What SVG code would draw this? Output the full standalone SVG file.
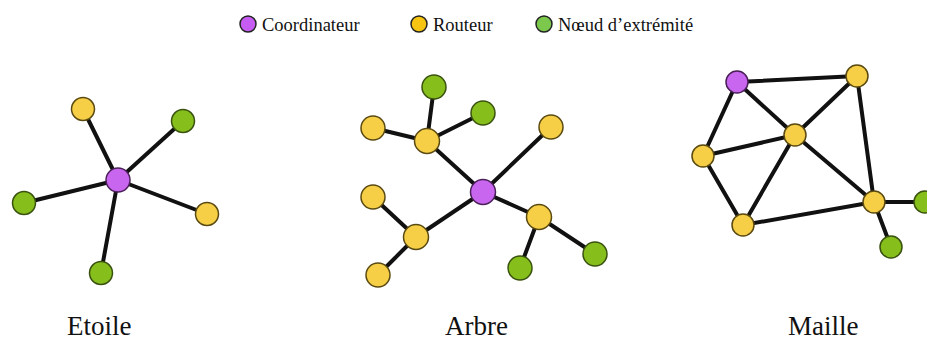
<svg xmlns="http://www.w3.org/2000/svg" width="927" height="342" viewBox="0 0 927 342">
<style>
.e{stroke:#111;stroke-width:4;stroke-linecap:round;fill:none}
.p{fill:#C966F0;stroke:#4a2058;stroke-width:1.5}
.y{fill:#F6CF46;stroke:#5a4a12;stroke-width:1.5}
.g{fill:#86BE1C;stroke:#3a5210;stroke-width:1.5}
.lp{fill:#C65CF2;stroke:#222;stroke-width:1.5}
.ly{fill:#F8C412;stroke:#222;stroke-width:1.5}
.lg{fill:#7CC84C;stroke:#222;stroke-width:1.5}
.lt{font-family:"Liberation Serif",serif;font-size:18.5px;fill:#111}
.tt{font-family:"Liberation Serif",serif;font-size:27px;fill:#111}
</style>
<rect width="927" height="342" fill="#fff"/>
<g id="legend">
<circle class="lp" cx="248" cy="24" r="8"/>
<text class="lt" x="262" y="31">Coordinateur</text>
<circle class="ly" cx="419" cy="24" r="8"/>
<text class="lt" x="433" y="31">Routeur</text>
<circle class="lg" cx="544" cy="24" r="8"/>
<text class="lt" x="558" y="31">Nœud d’extrémité</text>
</g>
<g id="connectors">
<line class="e" x1="118" y1="180" x2="83" y2="109"/>
<line class="e" x1="118" y1="180" x2="183" y2="121"/>
<line class="e" x1="118" y1="180" x2="24" y2="203"/>
<line class="e" x1="118" y1="180" x2="207" y2="214"/>
<line class="e" x1="118" y1="180" x2="101" y2="273"/>
<line class="e" x1="483" y1="192" x2="427" y2="141"/>
<line class="e" x1="483" y1="192" x2="551" y2="127"/>
<line class="e" x1="483" y1="192" x2="416" y2="237"/>
<line class="e" x1="483" y1="192" x2="539" y2="217"/>
<line class="e" x1="427" y1="141" x2="434" y2="87"/>
<line class="e" x1="427" y1="141" x2="483" y2="113"/>
<line class="e" x1="427" y1="141" x2="373" y2="128"/>
<line class="e" x1="416" y1="237" x2="373" y2="197"/>
<line class="e" x1="416" y1="237" x2="378" y2="275"/>
<line class="e" x1="539" y1="217" x2="520" y2="268"/>
<line class="e" x1="539" y1="217" x2="595" y2="254"/>
<line class="e" x1="737" y1="82" x2="857" y2="76"/>
<line class="e" x1="737" y1="82" x2="795" y2="135"/>
<line class="e" x1="737" y1="82" x2="703" y2="156"/>
<line class="e" x1="703" y1="156" x2="795" y2="135"/>
<line class="e" x1="703" y1="156" x2="743" y2="225"/>
<line class="e" x1="743" y1="225" x2="795" y2="135"/>
<line class="e" x1="795" y1="135" x2="857" y2="76"/>
<line class="e" x1="795" y1="135" x2="874" y2="202"/>
<line class="e" x1="857" y1="76" x2="874" y2="202"/>
<line class="e" x1="743" y1="225" x2="874" y2="202"/>
<line class="e" x1="874" y1="202" x2="925" y2="202"/>
<line class="e" x1="874" y1="202" x2="891" y2="247"/>
</g>
<g id="star">
<circle class="p" cx="118" cy="180" r="12"/>
<circle class="y" cx="83" cy="109" r="11.5"/>
<circle class="g" cx="183" cy="121" r="11.5"/>
<circle class="g" cx="24" cy="203" r="11.5"/>
<circle class="y" cx="207" cy="214" r="11.5"/>
<circle class="g" cx="101" cy="273" r="11.5"/>
</g>
<g id="tree">
<circle class="p" cx="483" cy="192" r="12.5"/>
<circle class="y" cx="427" cy="141" r="12.5"/>
<circle class="g" cx="434" cy="87" r="12"/>
<circle class="g" cx="483" cy="113" r="12"/>
<circle class="y" cx="373" cy="128" r="12"/>
<circle class="y" cx="551" cy="127" r="12"/>
<circle class="y" cx="373" cy="197" r="12"/>
<circle class="y" cx="416" cy="237" r="12.5"/>
<circle class="y" cx="378" cy="275" r="12"/>
<circle class="y" cx="539" cy="217" r="12.5"/>
<circle class="g" cx="520" cy="268" r="12"/>
<circle class="g" cx="595" cy="254" r="12"/>
</g>
<g id="mesh">
<circle class="p" cx="737" cy="82" r="11"/>
<circle class="y" cx="857" cy="76" r="11"/>
<circle class="y" cx="795" cy="135" r="11"/>
<circle class="y" cx="703" cy="156" r="11"/>
<circle class="y" cx="743" cy="225" r="11"/>
<circle class="y" cx="874" cy="202" r="11"/>
<circle class="g" cx="925" cy="202" r="11"/>
<circle class="g" cx="891" cy="247" r="11"/>
</g>
<g id="labels">
<text class="tt" x="67" y="335">Etoile</text>
<text class="tt" x="445" y="335">Arbre</text>
<text class="tt" x="788" y="335">Maille</text>
</g>
</svg>
